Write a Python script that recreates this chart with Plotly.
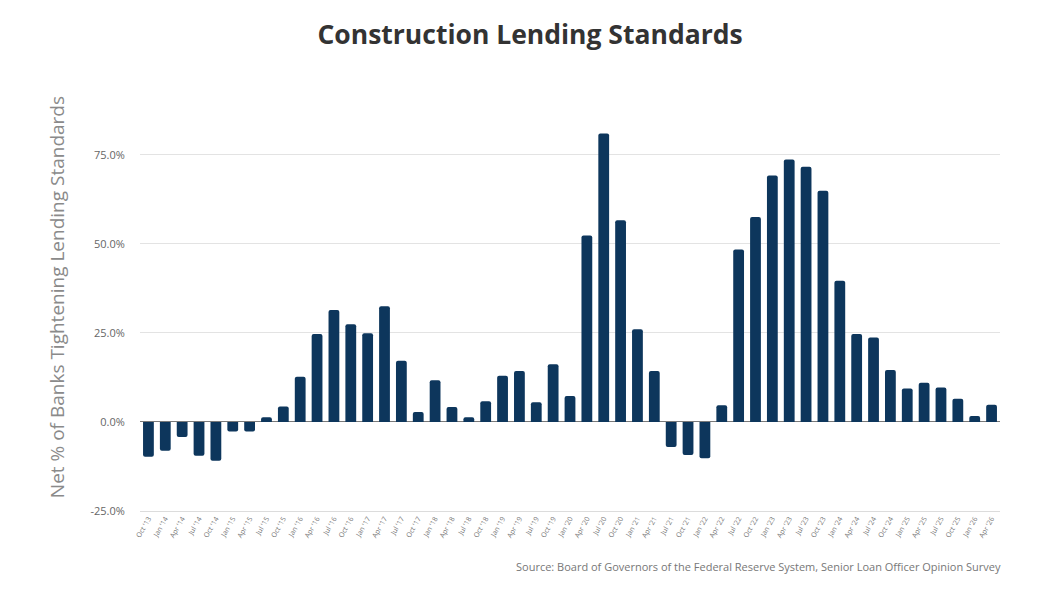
import plotly.graph_objects as go

quarters = ["Oct '13"]
for yr in range(14, 26):
    for m in ["Jan", "Apr", "Jul", "Oct"]:
        quarters.append(f"{m} '{yr}")
quarters += ["Jan '26", "Apr '26"]

values = [
    -9.8, -8.1, -4.2, -9.5, -10.9, -2.7, -2.7, 1.3, 4.3, 12.7,
    24.7, 31.4, 27.4, 24.9, 32.5, 17.2, 2.8, 11.7, 4.2, 1.3,
    5.8, 13.0, 14.3, 5.5, 16.2, 7.3, 52.3, 81.0, 56.6, 26.0,
    14.3, -7.0, -9.3, -10.2, 4.7, 48.4, 57.5, 69.2, 73.7, 71.6,
    64.9, 39.6, 24.7, 23.7, 14.6, 9.4, 11.0, 9.7, 6.5, 1.7, 4.8,
]

y_ticks = [-25, 0, 25, 50, 75]
y_tick_labels = ["-25.0%", "0.0%", "25.0%", "50.0%", "75.0%"]

FONT = "Open Sans"

fig = go.Figure(go.Bar(
    x=quarters, y=values,
    marker=dict(color="#0d365c", cornerradius=2, line=dict(width=0)),
    hovertemplate="%{x}: %{y:.1f}%<extra></extra>",
))

fig.update_layout(
    width=1060, height=596,
    paper_bgcolor="white", plot_bgcolor="white",
    margin=dict(l=132, r=68, t=104, b=93),
    bargap=0.36,
    showlegend=False,
    font=dict(family=FONT, color="#666"),
    title=dict(text="<b>Construction Lending Standards</b>", x=0.4925, xanchor="center",
               y=0.955, yanchor="middle",
               font=dict(family=FONT, size=26.5, color="#333")),
    annotations=[
        dict(
            text="Source: Board of Governors of the Federal Reserve System, Senior Loan Officer Opinion Survey",
            xref="paper", yref="paper", x=1.003, y=-0.138, xanchor="right", yanchor="middle",
            showarrow=False, font=dict(family=FONT, size=11, color="#777"),
        ),
        dict(
            text="Net % of Banks Tightening Lending Standards",
            xref="paper", yref="paper", x=-0.0965, y=0.536, xanchor="center", yanchor="middle",
            textangle=-90, showarrow=False, font=dict(family=FONT, size=19, color="#8a8a8a"),
        ),
    ],
)

fig.update_xaxes(
    type="category", tickangle=-60, tickfont=dict(size=7, color="#777"),
    showgrid=False, showline=True, linecolor="#dcdcdc", linewidth=1,
    ticks="", ticklen=0, anchor="y",
)
fig.update_yaxes(
    range=[-25, 87], tickvals=y_ticks, ticktext=y_tick_labels,
    tickfont=dict(size=11, color="#666"),
    showgrid=True, gridcolor="#e3e3e3", gridwidth=1,
    zeroline=True, zerolinecolor="#7a7a7a", zerolinewidth=1.3,
    ticks="outside", ticklen=12, tickcolor="white",
)

fig.write_html("out.html")
